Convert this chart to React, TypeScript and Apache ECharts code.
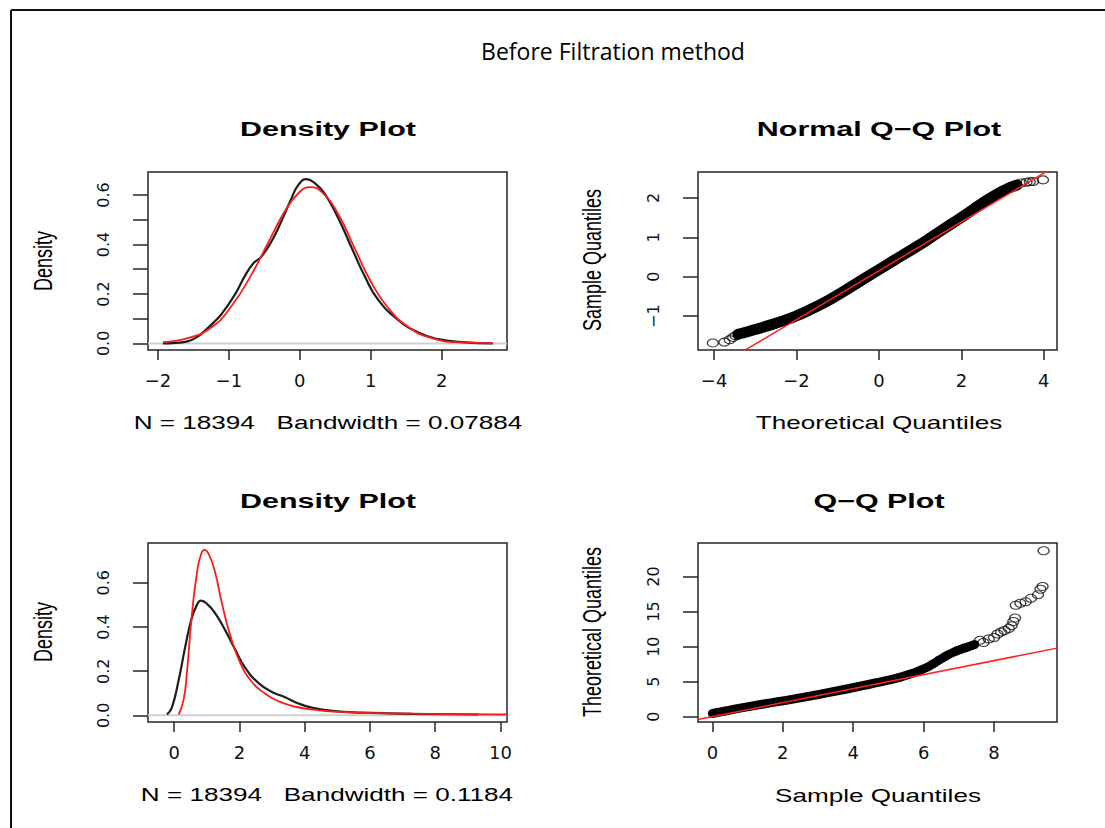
import React, { useEffect, useRef } from "react";
import * as echarts from "echarts";

// ---------- texts ----------
const mainTitle = "Before Filtration method";
const panelTitles = ["Density Plot", "Normal Q\u2212Q Plot", "Density Plot", "Q\u2212Q Plot"];
const xNames = [
  "N = 18394   Bandwidth = 0.07884",
  "Theoretical Quantiles",
  "N = 18394   Bandwidth = 0.1184",
  "Sample Quantiles",
];
const yNames = ["Density", "Sample Quantiles", "Density", "Theoretical Quantiles"];

// ---------- panel 1: density (top-left) ----------
const d1X = [-1.93, -1.75, -1.57, -1.45, -1.34, -1.22, -1.1, -0.92, -0.77, -0.66, -0.54, -0.4, -0.26, -0.12, -0.02, 0.09, 0.21, 0.35, 0.54, 0.73, 0.92, 1.1, 1.38, 1.67, 1.95, 2.28, 2.72];
const d1Black = [0.0, 0.002, 0.009, 0.026, 0.051, 0.083, 0.12, 0.195, 0.275, 0.322, 0.352, 0.412, 0.494, 0.585, 0.641, 0.664, 0.648, 0.606, 0.507, 0.387, 0.268, 0.178, 0.096, 0.044, 0.017, 0.005, 0.0];
const d1FitX = [-1.93, -1.57, -1.24, -0.96, -0.68, -0.45, -0.21, -0.02, 0.14, 0.31, 0.54, 0.77, 1.01, 1.24, 1.53, 1.85, 2.28, 2.72];
const d1Red = [0.005, 0.022, 0.066, 0.152, 0.279, 0.405, 0.535, 0.607, 0.632, 0.612, 0.523, 0.386, 0.245, 0.145, 0.066, 0.022, 0.004, 0.001];

// ---------- panel 2: normal Q-Q (top-right) ----------
const q1BandX = [-3.42, -3.0, -2.5, -2.09, -1.7, -1.28, -0.9, -0.47, 0, 0.34, 0.75, 1.15, 1.55, 1.96, 2.3, 2.6, 2.9, 3.17, 3.35];
const q1BandY = [-1.46, -1.34, -1.18, -1.03, -0.85, -0.63, -0.4, -0.12, 0.18, 0.4, 0.66, 0.92, 1.2, 1.48, 1.72, 1.93, 2.12, 2.26, 2.33];
const q1TailX = [-4.03, -3.75, -3.62, -3.54, -3.48, 3.45, 3.58, 3.66, 3.74, 3.98];
const q1TailY = [-1.68, -1.66, -1.6, -1.54, -1.5, 2.38, 2.4, 2.41, 2.42, 2.46];
const q1LineX = [-4.39, 4.32];
const q1LineY = [-2.57, 2.83];

// ---------- panel 3: density (bottom-left) ----------
const d2X = [-0.22, -0.07, 0.14, 0.34, 0.54, 0.7, 0.82, 1.0, 1.26, 1.56, 1.87, 2.18, 2.59, 3.0, 3.4, 3.81, 4.22, 4.84, 5.76, 7.29, 9.33];
const d2Black = [0.004, 0.035, 0.16, 0.31, 0.44, 0.5, 0.519, 0.506, 0.462, 0.387, 0.298, 0.215, 0.146, 0.106, 0.082, 0.054, 0.035, 0.02, 0.012, 0.007, 0.004];
const d2FitX = [0.14, 0.29, 0.39, 0.54, 0.7, 0.83, 0.93, 1.07, 1.26, 1.46, 1.72, 2.03, 2.38, 2.79, 3.2, 3.71, 4.43, 5.25, 6.78, 8.31, 10.2];
const d2Red = [0.004, 0.07, 0.19, 0.448, 0.646, 0.731, 0.749, 0.727, 0.645, 0.51, 0.362, 0.237, 0.152, 0.098, 0.064, 0.039, 0.023, 0.015, 0.009, 0.006, 0.004];

// ---------- panel 4: Q-Q (bottom-right) ----------
const q2BandX = [0.0, 0.4, 0.87, 1.5, 2.29, 3.0, 3.71, 4.2, 4.66, 5.0, 5.32, 5.6, 5.89, 6.1, 6.27, 6.45, 6.65, 6.85, 7.05, 7.25, 7.45];
const q2BandY = [0.45, 0.85, 1.3, 1.85, 2.5, 3.15, 3.85, 4.35, 4.85, 5.22, 5.62, 6.05, 6.6, 7.05, 7.55, 8.1, 8.7, 9.2, 9.6, 9.95, 10.3];
const q2TailX = [7.6, 7.7, 7.85, 8.0, 8.1, 8.2, 8.3, 8.42, 8.5, 8.55, 8.6, 8.62, 8.75, 8.9, 9.05, 9.25, 9.32, 9.38, 9.41];
const q2TailY = [10.9, 10.6, 11.1, 11.3, 11.8, 12.1, 12.3, 12.6, 13.0, 13.6, 14.1, 15.9, 16.2, 16.4, 16.9, 17.4, 18.2, 18.6, 23.7];
const q2LineX = [-0.41, 9.79];
const q2LineY = [-0.41, 9.79];

// ---------- axes ----------
const xLim = [[-2.14, 2.92], [-4.39, 4.32], [-0.8, 10.2], [-0.41, 9.79]];
const yLim = [[-0.0267, 0.693], [-1.86, 2.66], [-0.03, 0.78], [-0.76, 24.8]];
const xTicks = [[-2, -1, 0, 1, 2], [-4, -2, 0, 2, 4], [0, 2, 4, 6, 8, 10], [0, 2, 4, 6, 8]];
const yTicks = [[0, 0.1, 0.2, 0.3, 0.4, 0.5, 0.6], [-1, 0, 1, 2], [0, 0.2, 0.4, 0.6], [0, 5, 10, 15, 20]];
const yLabels = [[0, 0.2, 0.4, 0.6], [-1, 0, 1, 2], [0, 0.2, 0.4, 0.6], [0, 5, 10, 15, 20]];
const yDecimals = [1, 0, 1, 0];

const pairs = (xs: number[], ys: number[]) => xs.map((x, i) => [x, ys[i]]);

const gridBoxes = [
  { left: 148, top: 172, width: 359, height: 178 },
  { left: 698, top: 172, width: 359, height: 178 },
  { left: 148, top: 543, width: 359, height: 179 },
  { left: 698, top: 543, width: 359, height: 179 },
];

const STRETCH = 1.45;
const ellipse = "path://M0,50 A50,50 0 1,1 100,50 A50,50 0 1,1 0,50 Z";

function buildOption() {
  const fmtNum = (v: number, d: number) => v.toFixed(d).replace("-", "\u2212");

  const grid = gridBoxes.map((g) => ({
    ...g,
    show: true,
    borderColor: "#262626",
    borderWidth: 1.5,
    backgroundColor: "transparent",
    containLabel: false,
    outerBoundsMode: "none",
  }));

  const xAxis = gridBoxes.map((_, i) => ({
    type: "value",
    gridIndex: i,
    min: xLim[i][0],
    max: xLim[i][1],
    axisLine: { show: false, onZero: false },
    axisTick: {
      show: true,
      length: 10,
      lineStyle: { color: "#262626", width: 1.5 },
      customValues: xTicks[i],
    },
    axisLabel: {
      customValues: xTicks[i],
      formatter: (v: number) => fmtNum(v, 0),
      fontFamily: "DejaVu Sans",
      fontSize: 18,
      color: "#111",
      margin: 21,
    },
    splitLine: { show: false },
  }));

  const yAxis = gridBoxes.map((_, i) => ({
    type: "value",
    gridIndex: i,
    min: yLim[i][0],
    max: yLim[i][1],
    axisLine: { show: false, onZero: false },
    axisTick: {
      show: true,
      length: 15,
      lineStyle: { color: "#262626", width: 1.5 },
      customValues: yTicks[i],
    },
    axisLabel: {
      customValues: yLabels[i],
      formatter: (v: number) => fmtNum(v, yDecimals[i]),
      fontFamily: "DejaVu Sans",
      fontSize: 16,
      color: "#111",
      rotate: 90,
      margin: 37,
    },
    splitLine: { show: false },
  }));

  const lineBase = { type: "line", showSymbol: false, symbol: "none", animation: false, silent: true };

  const series: any[] = [
    // panel 1
    { ...lineBase, xAxisIndex: 0, yAxisIndex: 0, data: pairs([xLim[0][0], xLim[0][1]], [0, 0]), lineStyle: { color: "#cfcfcf", width: 2 } },
    { ...lineBase, xAxisIndex: 0, yAxisIndex: 0, data: pairs(d1X, d1Black), smooth: 0.5, lineStyle: { color: "#1e1e1e", width: 2.2 } },
    { ...lineBase, xAxisIndex: 0, yAxisIndex: 0, data: pairs(d1FitX, d1Red), smooth: 0.5, lineStyle: { color: "#ff1a1a", width: 1.8 } },
    // panel 2
    { ...lineBase, xAxisIndex: 1, yAxisIndex: 1, data: pairs(q1BandX, q1BandY), smooth: 0.4, lineStyle: { color: "#000", width: 11, cap: "round", join: "round" } },
    {
      type: "scatter", xAxisIndex: 1, yAxisIndex: 1, data: pairs(q1TailX, q1TailY), symbol: ellipse, symbolSize: [11, 8],
      itemStyle: { color: "rgba(0,0,0,0)", borderColor: "#111", borderWidth: 1.2 }, silent: true,
    },
    { ...lineBase, xAxisIndex: 1, yAxisIndex: 1, data: pairs(q1LineX, q1LineY), lineStyle: { color: "#ff2020", width: 1.5 } },
    // panel 3
    { ...lineBase, xAxisIndex: 2, yAxisIndex: 2, data: pairs([xLim[2][0], xLim[2][1]], [0, 0]), lineStyle: { color: "#cfcfcf", width: 2 } },
    { ...lineBase, xAxisIndex: 2, yAxisIndex: 2, data: pairs(d2X, d2Black), smooth: 0.5, lineStyle: { color: "#1e1e1e", width: 2.2 } },
    { ...lineBase, xAxisIndex: 2, yAxisIndex: 2, data: pairs(d2FitX, d2Red), smooth: 0.5, lineStyle: { color: "#ff1a1a", width: 1.8 } },
    // panel 4
    { ...lineBase, xAxisIndex: 3, yAxisIndex: 3, data: pairs(q2BandX, q2BandY), smooth: 0.4, lineStyle: { color: "#000", width: 9, cap: "round", join: "round" } },
    {
      type: "scatter", xAxisIndex: 3, yAxisIndex: 3, data: pairs(q2TailX, q2TailY), symbol: ellipse, symbolSize: [11, 8],
      itemStyle: { color: "rgba(0,0,0,0)", borderColor: "#111", borderWidth: 1.2 }, silent: true,
    },
    { ...lineBase, xAxisIndex: 3, yAxisIndex: 3, data: pairs(q2LineX, q2LineY), lineStyle: { color: "#ff2020", width: 1.5 } },
  ];

  const titlePos = [[328, 129], [879, 129], [328, 501], [879, 501]];
  const xNamePos = [[328, 423], [879, 423], [327, 795], [878, 796]];
  const yNamePos = [[43, 261], [592, 260], [43, 632], [592, 632]];

  const graphic: any[] = [
    { type: "line", shape: { x1: 11, y1: 10, x2: 1105, y2: 10 }, style: { stroke: "#111", lineWidth: 2 }, z: 100 },
    { type: "line", shape: { x1: 11, y1: 10, x2: 11, y2: 828 }, style: { stroke: "#111", lineWidth: 2 }, z: 100 },
    {
      type: "text", x: 613, y: 51, z: 100,
      style: { text: mainTitle, fontFamily: "Open Sans", fontSize: 23, fill: "#000", align: "center", verticalAlign: "middle" },
    },
  ];
  for (let i = 0; i < 4; i++) {
    graphic.push({
      type: "text", x: titlePos[i][0], y: titlePos[i][1], scaleX: STRETCH, z: 100,
      style: { text: panelTitles[i], fontFamily: "Liberation Sans", fontWeight: "bold", fontSize: 21, fill: "#000", align: "center", verticalAlign: "middle" },
    });
    graphic.push({
      type: "text", x: xNamePos[i][0], y: xNamePos[i][1], scaleX: STRETCH, z: 100,
      style: { text: xNames[i], fontFamily: "Liberation Sans", fontSize: 18, fill: "#000", align: "center", verticalAlign: "middle" },
    });
    graphic.push({
      type: "text", x: yNamePos[i][0], y: yNamePos[i][1], rotation: Math.PI / 2, scaleY: STRETCH, z: 100,
      style: { text: yNames[i], fontFamily: "Liberation Sans", fontSize: 18, fill: "#000", align: "center", verticalAlign: "middle" },
    });
  }

  return {
    animation: false,
    backgroundColor: "#ffffff",
    grid,
    xAxis,
    yAxis,
    series,
    graphic,
  };
}

export default function App() {
  const ref = useRef<HTMLDivElement>(null);
  useEffect(() => {
    if (!ref.current) return;
    const chart = echarts.init(ref.current, null, { renderer: "svg" });
    chart.setOption(buildOption() as any);
    return () => chart.dispose();
  }, []);
  return (
    <div
      ref={ref}
      style={{ position: "absolute", left: 0, top: 0, width: 1105, height: 828, background: "#fff" }}
    />
  );
}
